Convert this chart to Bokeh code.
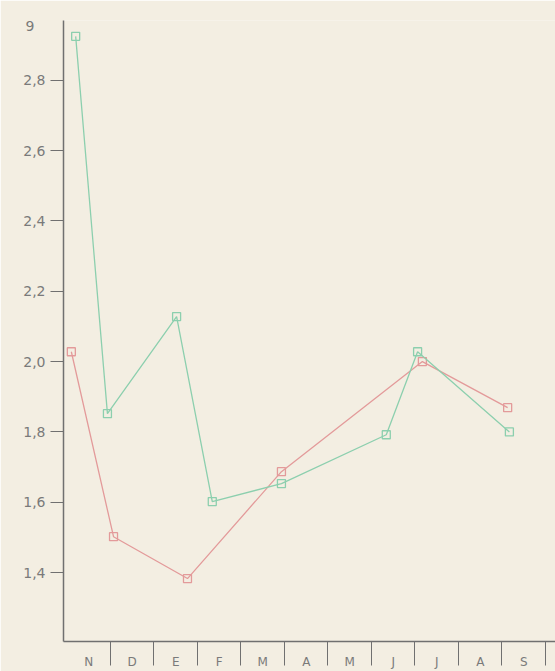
from bokeh.plotting import figure
from bokeh.models import FixedTicker, Range1d, LinearAxis
from bokeh.embed import file_html
from bokeh.resources import INLINE

# Month categories (tick labels)
months = ["N", "D", "E", "F", "M", "A", "M", "J", "J", "A", "S"]

# Series positions in month units (0 = centre of N) and values
green_x = [-0.30, 0.43, 2.02, 2.84, 4.43, 6.84, 7.56, 9.67]
green_y = [2.925, 1.852, 2.128, 1.602, 1.653, 1.792, 2.028, 1.80]
red_x = [-0.40, 0.57, 2.27, 4.43, 7.67, 9.63]
red_y = [2.028, 1.502, 1.383, 1.687, 2.00, 1.869]

y_ticks = [1.4, 1.6, 1.8, 2.0, 2.2, 2.4, 2.6, 2.8]
y_tick_labels = ["1,4", "1,6", "1,8", "2,0", "2,2", "2,4", "2,6", "2,8"]
top_label = "9"
top_label_pos = 2.953

bg = "#f3eee2"
green = "#8ccfae"
red = "#e39a9a"
axis_col = "#707070"
text_col = "#7a7a7a"

p = figure(width=555, height=671, output_backend="svg", toolbar_location=None,
           x_range=Range1d(-0.58, 10.73), y_range=Range1d(1.204, 2.97),
           min_border_left=63, min_border_right=0, min_border_top=20,
           min_border_bottom=29)
p.background_fill_color = bg
p.border_fill_color = bg
p.outline_line_color = None
p.xgrid.visible = False
p.ygrid.visible = False

# Y axis
p.yaxis.ticker = FixedTicker(ticks=y_ticks)
p.yaxis.major_label_overrides = {t: l for t, l in zip(y_ticks, y_tick_labels)}
p.yaxis.axis_line_color = axis_col
p.yaxis.axis_line_width = 1.5
p.yaxis.major_tick_line_color = axis_col
p.yaxis.major_tick_out = 13
p.yaxis.major_tick_in = 0
p.yaxis.minor_tick_line_color = None
p.yaxis.major_label_standoff = 5
p.yaxis.major_label_text_color = text_col
p.yaxis.major_label_text_font = "DejaVu Sans"
p.yaxis.major_label_text_font_size = "14px"

# Extra label at the top of the axis (unit mark)
top_axis = LinearAxis(ticker=FixedTicker(ticks=[top_label_pos]),
                      major_label_overrides={top_label_pos: top_label},
                      axis_line_color=None, major_tick_line_color=None,
                      minor_tick_line_color=None, major_tick_out=0,
                      major_tick_in=0, major_label_standoff=-14,
                      major_label_text_color=text_col,
                      major_label_text_font="DejaVu Sans",
                      major_label_text_font_size="14px")
p.add_layout(top_axis, "left")

# X axis: labels at month centres, separators as minor ticks
p.xaxis.ticker = FixedTicker(ticks=list(range(len(months))),
                             minor_ticks=[i + 0.5 for i in range(len(months))])
p.xaxis.major_label_overrides = {i: m for i, m in enumerate(months)}
p.xaxis.axis_line_color = axis_col
p.xaxis.axis_line_width = 1.5
p.xaxis.major_tick_line_color = None
p.xaxis.major_tick_out = 0
p.xaxis.major_tick_in = 0
p.xaxis.minor_tick_line_color = axis_col
p.xaxis.minor_tick_out = 24
p.xaxis.minor_tick_in = 0
p.xaxis.major_label_standoff = -11
p.xaxis.major_label_text_color = text_col
p.xaxis.major_label_text_font = "DejaVu Sans"
p.xaxis.major_label_text_font_size = "12px"

# Series
p.line(red_x, red_y, line_color=red, line_width=1.3)
p.scatter(red_x, red_y, marker="square", size=8, fill_color=None,
          line_color=red, line_width=1.3)
p.line(green_x, green_y, line_color=green, line_width=1.3)
p.scatter(green_x, green_y, marker="square", size=8, fill_color=None,
          line_color=green, line_width=1.3)

open("out.html", "w").write(file_html(p, INLINE))
